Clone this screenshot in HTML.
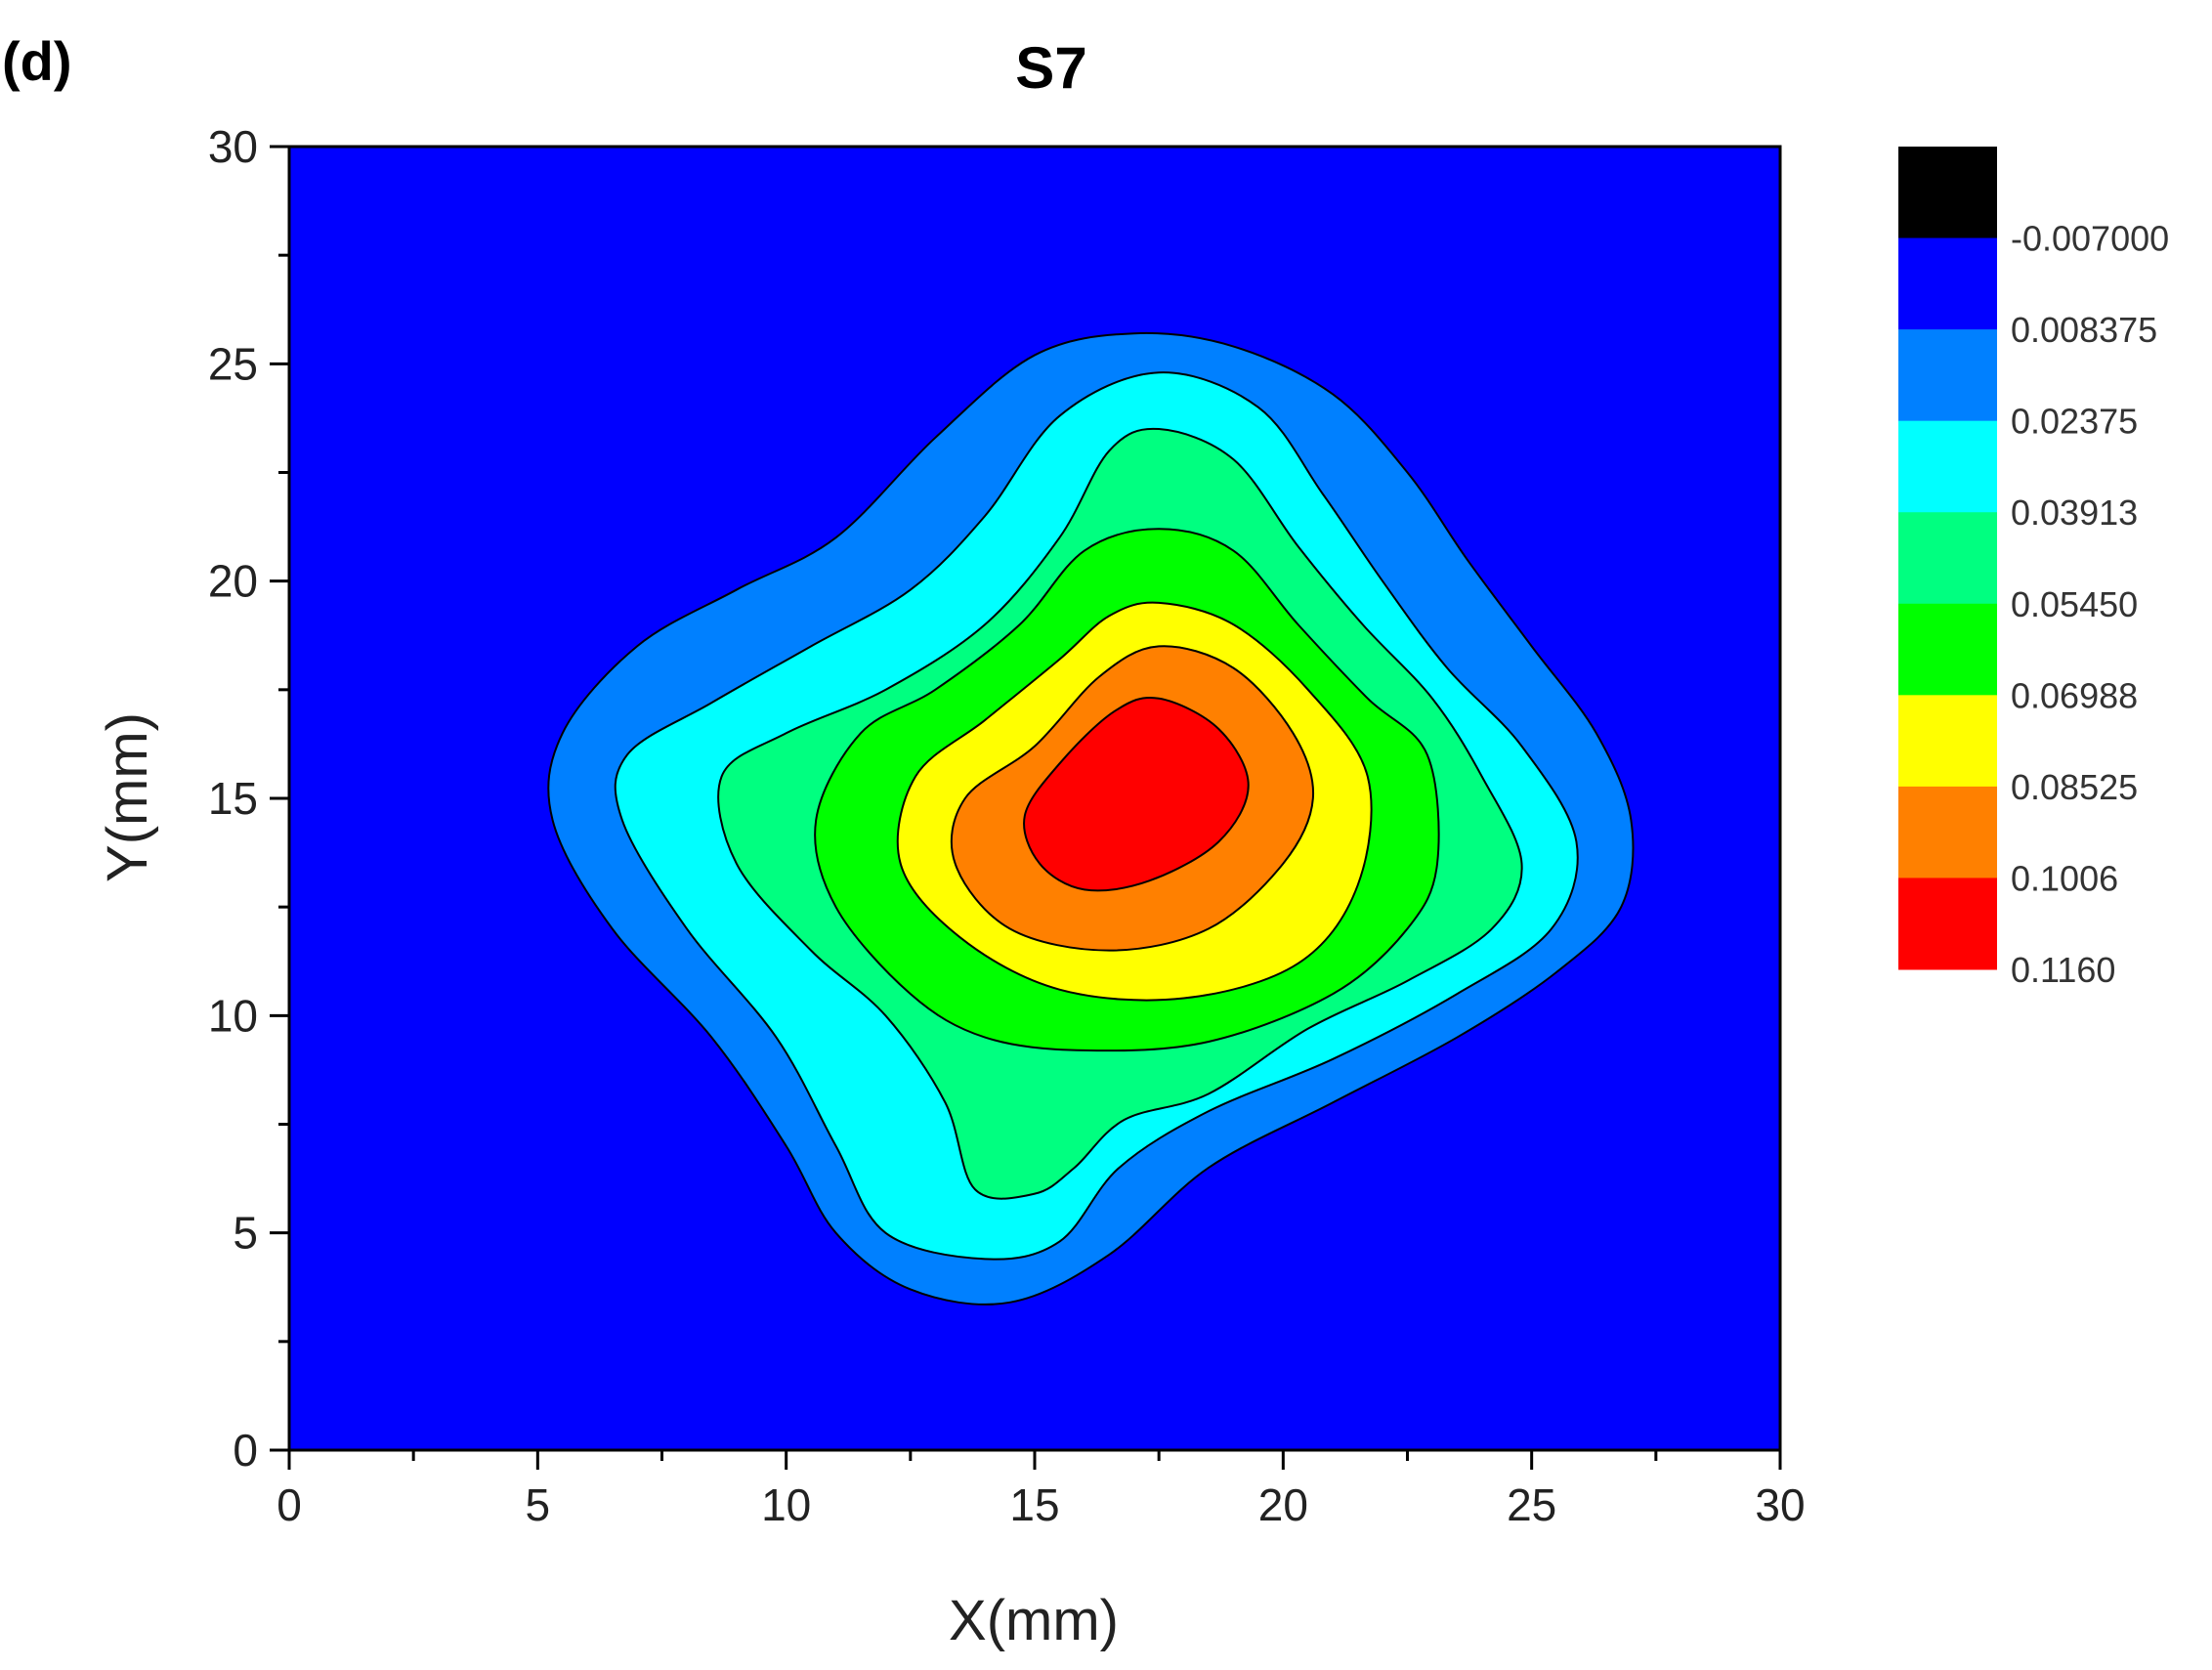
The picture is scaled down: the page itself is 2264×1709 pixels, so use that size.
<!DOCTYPE html>
<html><head><meta charset="utf-8"><style>
html,body{margin:0;padding:0;background:#fff;}
svg{display:block;font-family:"Liberation Sans",Arial,sans-serif;}
</style></head><body>
<svg id="chart" width="2264" height="1709" viewBox="0 0 2264 1709" xmlns="http://www.w3.org/2000/svg">
<text x="2" y="82" font-size="56" font-weight="bold">(d)</text>
<text x="1076" y="90" font-size="60" font-weight="bold" text-anchor="middle">S7</text>
<g id="plot"></g>
<g id="axes"></g>
<g id="cbar"></g>
<text x="1058" y="1678" font-size="58" text-anchor="middle" fill="#222">X(mm)</text>
<text transform="translate(150,816) rotate(-90)" font-size="58" text-anchor="middle" fill="#222">Y(mm)</text>
</svg>
<script>
const levelLabels=["-0.007000","0.008375","0.02375","0.03913","0.05450","0.06988","0.08525","0.1006","0.1160"];
const bandColors=["#000000","#0000FF","#0080FF","#00FFFF","#00FF80","#00FF00","#FFFF00","#FF8000","#FF0000"];
const xTicks=[0,5,10,15,20,25,30];
const yTicks=[0,5,10,15,20,25,30];
const c1=[[17,25.7],[19,25.4],[21,24.3],[22.5,22.5],[23.7,20.5],[25,18.5],[26.3,16.5],[27,14.5],[26.8,12.5],[25.5,11],[23.5,9.5],[21,8],[18.5,6.5],[16.5,4.5],[14.5,3.4],[12.5,3.7],[11,5],[10,7],[8.5,9.5],[6.5,12],[5.3,14.5],[5.5,16.5],[7,18.5],[9,19.8],[11,21],[13,23.3],[15,25.2]];
const c2=[[17.5,24.8],[19.5,24],[20.8,22],[22,20],[23.3,18],[24.8,16.2],[25.9,14],[25.4,12],[23.5,10.5],[21,9],[18.5,7.8],[16.7,6.5],[15.5,4.8],[14,4.4],[12,5],[11,7],[9.8,9.5],[8,12],[6.7,14.5],[6.8,16],[8.5,17.2],[10.5,18.5],[12.5,19.8],[14,21.5],[15.5,23.8]];
const c3=[[17.5,23.5],[19,22.8],[20.3,20.8],[21.6,19],[23,17.3],[24,15.5],[24.8,13.5],[24.2,12],[22.5,10.8],[20.5,9.7],[18.5,8.2],[16.8,7.6],[15.8,6.5],[15,5.9],[13.8,6],[13.2,8],[12,10],[10.5,11.5],[9,13.5],[8.7,15.5],[10,16.5],[12,17.5],[14,19],[15.5,21],[16.5,23]];
const c4=[[17.5,21.2],[19,20.7],[20.3,19],[21.7,17.3],[22.9,16],[23.1,13.5],[22.5,12],[21,10.5],[18.5,9.4],[16,9.2],[14,9.5],[12.5,10.5],[11,12.5],[10.6,14.5],[11.5,16.5],[13,17.5],[14.7,19],[16,20.7]];
const c5=[[17.5,19.5],[19,19],[20.5,17.5],[21.7,15.5],[21.5,13],[20.3,11.2],[18,10.4],[15.5,10.6],[13.5,11.8],[12.3,13.5],[12.6,15.5],[14,16.8],[15.5,18.2],[16.5,19.2]];
const c6=[[17.5,18.5],[19,18],[20.2,16.5],[20.6,15],[20,13.5],[18.5,12],[16.5,11.5],[14.5,12],[13.4,13.5],[13.6,15],[15,16.2],[16.3,17.8]];
const c7=[[17.5,17.3],[18.7,16.6],[19.3,15.3],[18.7,14],[17.3,13.1],[16,12.9],[15.1,13.5],[14.8,14.6],[15.5,15.8],[16.6,17]];
const contours=[c1,c2,c3,c4,c5,c6,c7];

const X0=296,X1=1822,Y0=1484,Y1=150;
const sx=v=>X0+(v/30)*(X1-X0);
const sy=v=>Y0-(v/30)*(Y0-Y1);
const NS="http://www.w3.org/2000/svg";
function mk(t,a,p){const e=document.createElementNS(NS,t);for(const k in a)e.setAttribute(k,a[k]);p.appendChild(e);return e;}
function smooth(pts){
  const p=pts.map(q=>[sx(q[0]),sy(q[1])]);const n=p.length;let d=`M${p[0][0]},${p[0][1]}`;
  for(let i=0;i<n;i++){const a=p[(i-1+n)%n],b=p[i],c=p[(i+1)%n],e=p[(i+2)%n];
    d+=`C${b[0]+(c[0]-a[0])/6},${b[1]+(c[1]-a[1])/6} ${c[0]-(e[0]-b[0])/6},${c[1]-(e[1]-b[1])/6} ${c[0]},${c[1]}`;}
  return d+"Z";
}
const plot=document.getElementById('plot');
const bg=mk('rect',{x:X0,y:Y1,width:X1-X0,height:Y0-Y1,fill:bandColors[1]},plot);


contours.forEach((c,i)=>{
  const p=mk('path',{d:smooth(c),fill:bandColors[i+2],stroke:'#000','stroke-width':2},plot);
  
  
});
const axes=document.getElementById('axes');
const fr=mk('rect',{x:X0,y:Y1,width:X1-X0,height:Y0-Y1,fill:'none',stroke:'#000','stroke-width':3},axes);


for(let v=0;v<=30;v+=2.5){
  const major=v%5===0,L=major?20:11;
  const tx=mk('line',{x1:sx(v),x2:sx(v),y1:Y0,y2:Y0+L,stroke:'#000','stroke-width':3},axes);
  
  
  const ty=mk('line',{x1:X0-L,x2:X0,y1:sy(v),y2:sy(v),stroke:'#000','stroke-width':3},axes);
  
  
}
xTicks.forEach(v=>{const t=mk('text',{x:sx(v),y:Y0+72,'font-size':46,'text-anchor':'middle',fill:'#222'},axes);t.textContent=v;
  
  });
yTicks.forEach(v=>{const t=mk('text',{x:X0-32,y:sy(v)+16,'font-size':46,'text-anchor':'end',fill:'#222'},axes);t.textContent=v;
  
  });
const cb=document.getElementById('cbar');
const BX=1943,BW=101,BT=150,BB=992,seg=(BB-BT)/bandColors.length;
bandColors.forEach((c,i)=>{const r=mk('rect',{x:BX,y:BT+i*seg,width:BW,height:seg+0.5,fill:c},cb);
  
  });
levelLabels.forEach((l,i)=>{const t=mk('text',{x:BX+BW+14,y:BT+(i+1)*seg+13,'font-size':36,fill:'#333'},cb);t.textContent=l;
  
  });
</script>
</body></html>
